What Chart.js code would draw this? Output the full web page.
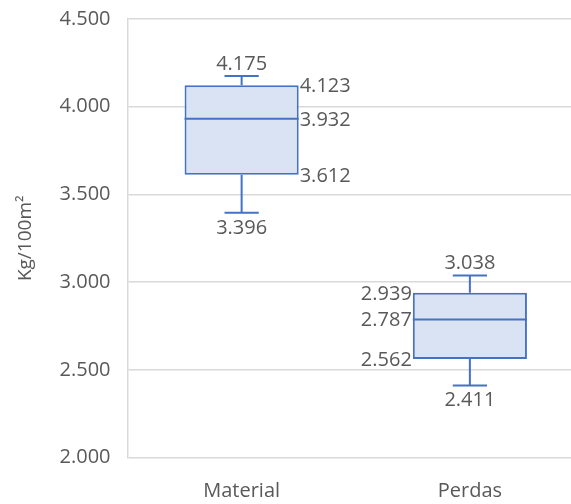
<!DOCTYPE html>
<html>
<head>
<meta charset="utf-8">
<script src="https://cdn.jsdelivr.net/npm/chart.js@4/dist/chart.umd.min.js"></script>
<style>
  html, body { margin: 0; padding: 0; overflow: hidden; background: #fff; }
  canvas { display: block; }
</style>
</head>
<body>
<canvas id="c" width="584" height="504"></canvas>
<script>
// Five-number summaries per category (kg per 100 m²)
const categories     = ['Material', 'Perdas'];
const minimums       = [3396, 2411];
const firstQuartiles = [3612, 2562];
const medians        = [3932, 2787];
const thirdQuartiles = [4123, 2939];
const maximums       = [4175, 3038];

// Value axis
const yAxisMin = 2000;
const yAxisMax = 4500;
const yAxisStep = 500;
const yAxisTitle = 'Kg/100m²';

// pt-BR style thousands separator: 4500 -> "4.500"
const fmt = v => String(Math.round(v)).replace(/\B(?=(\d{3})+(?!\d))/g, '.');

const TEXT = '#595959';
const LINE = '#4472C4';
const FILL = '#DAE3F3';
const GRID = '#d9d9d9';
const FAMILY = "'Open Sans', sans-serif";
const SIZE = 20;

// which side of the box the quartile/median labels sit on
const labelSide = ['right', 'left'];

// Whiskers, median line and value labels, positioned from the bar elements and the y scale
const boxPlotExtras = {
  id: 'boxPlotExtras',
  beforeDatasetsDraw(chart) {
    const y = chart.scales.y;
    const meta = chart.getDatasetMeta(0);
    const ctx = chart.ctx;
    ctx.save();
    ctx.strokeStyle = LINE;
    ctx.lineWidth = 2;
    meta.data.forEach((el, i) => {
      const capHalf = el.width * 0.15;
      const yMax = y.getPixelForValue(maximums[i]);
      const yMin = y.getPixelForValue(minimums[i]);
      const yQ3 = y.getPixelForValue(thirdQuartiles[i]);
      const yQ1 = y.getPixelForValue(firstQuartiles[i]);
      ctx.beginPath();
      ctx.moveTo(el.x, yQ3); ctx.lineTo(el.x, yMax);
      ctx.moveTo(el.x - capHalf, yMax); ctx.lineTo(el.x + capHalf, yMax);
      ctx.moveTo(el.x, yQ1); ctx.lineTo(el.x, yMin);
      ctx.moveTo(el.x - capHalf, yMin); ctx.lineTo(el.x + capHalf, yMin);
      ctx.stroke();
    });
    ctx.restore();
  },
  afterDatasetsDraw(chart) {
    const y = chart.scales.y;
    const meta = chart.getDatasetMeta(0);
    const ctx = chart.ctx;
    ctx.save();
    ctx.strokeStyle = LINE;
    ctx.lineWidth = 2;
    ctx.fillStyle = TEXT;
    ctx.font = SIZE + 'px ' + FAMILY;
    ctx.textBaseline = 'alphabetic';
    meta.data.forEach((el, i) => {
      const half = el.width / 2;
      const yMed = y.getPixelForValue(medians[i]);
      ctx.beginPath();
      ctx.moveTo(el.x - half, yMed); ctx.lineTo(el.x + half, yMed);
      ctx.stroke();

      // extremes above / below the caps
      ctx.textAlign = 'center';
      ctx.fillText(fmt(maximums[i]), el.x, y.getPixelForValue(maximums[i]) - 6);
      ctx.fillText(fmt(minimums[i]), el.x, y.getPixelForValue(minimums[i]) + 21);

      // quartiles and median beside the box
      const right = labelSide[i] === 'right';
      ctx.textAlign = right ? 'left' : 'right';
      const lx = right ? el.x + half + 1 : el.x - half - 1;
      [thirdQuartiles[i], medians[i], firstQuartiles[i]].forEach(v => {
        ctx.fillText(fmt(v), lx, y.getPixelForValue(v) + 7);
      });
    });
    ctx.restore();
  }
};

new Chart(document.getElementById('c'), {
  type: 'bar',
  data: {
    labels: categories,
    datasets: [{
      data: categories.map((_, i) => [firstQuartiles[i], thirdQuartiles[i]]),
      backgroundColor: FILL,
      borderColor: LINE,
      borderWidth: 2,
      borderSkipped: false,
      barPercentage: 0.5,
      categoryPercentage: 1.0
    }]
  },
  options: {
    responsive: false,
    animation: false,
    layout: { padding: { top: 19, right: 0, bottom: 0, left: 0 } },
    plugins: {
      legend: { display: false },
      tooltip: { enabled: false }
    },
    scales: {
      x: {
        grid: { display: false, drawTicks: false },
        border: { display: false },
        ticks: { color: TEXT, font: { family: FAMILY, size: SIZE }, padding: 22 },
        afterFit(scale) { scale.height = 46.5; }
      },
      y: {
        min: yAxisMin,
        max: yAxisMax,
        ticks: {
          stepSize: yAxisStep,
          color: TEXT,
          font: { family: FAMILY, size: SIZE },
          padding: 17,
          callback: v => fmt(v)
        },
        grid: { color: GRID, lineWidth: 1.5, drawTicks: false },
        border: { display: true, color: GRID, width: 1.5 },
        title: {
          display: true,
          text: yAxisTitle,
          color: TEXT,
          font: { family: FAMILY, size: 19 },
          padding: { top: 14, bottom: 0 }
        },
        afterFit(scale) {
          scale.width = 127.5;
          scale.paddingTop = 0;
          scale.paddingBottom = 0;
        }
      }
    }
  },
  plugins: [boxPlotExtras]
});
</script>
</body>
</html>
